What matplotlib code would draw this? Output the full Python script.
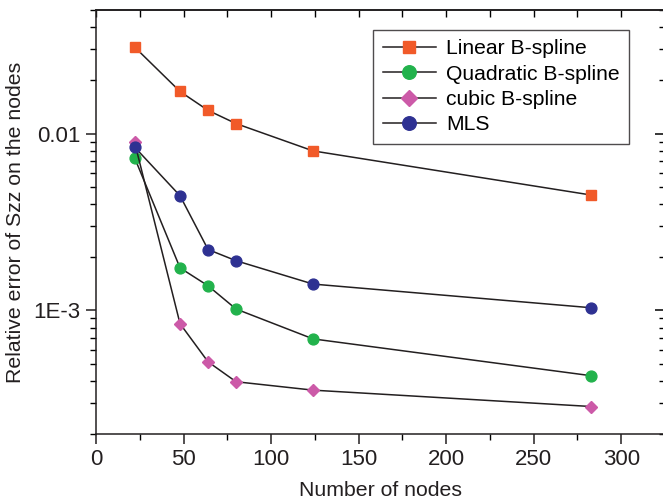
import matplotlib
matplotlib.use('Agg')
import matplotlib.pyplot as plt
from matplotlib.ticker import LogLocator, FixedFormatter, MultipleLocator, NullFormatter

plt.rcParams['font.family'] = ['Liberation Sans', 'DejaVu Sans']

nodes = [22, 48, 64, 80, 124, 283]
linear = [0.0309, 0.0173, 0.01353, 0.01139, 0.00798, 0.00449]
quadratic = [0.00732, 0.00174, 0.001378, 0.001018, 0.000690, 0.000427]
cubic = [0.00897, 0.000841, 0.000512, 0.000395, 0.000354, 0.000286]
mls = [0.00840, 0.00445, 0.00221, 0.00191, 0.001409, 0.001035]

fig = plt.figure(figsize=(6.63, 5.0), dpi=100)
ax = fig.add_axes([96/663, 66/500, 569/663, 424/500])

lc = '#231f20'
ax.plot(nodes, linear, '-', color=lc, lw=1.1, marker='s', ms=7.2,
        mfc='#f15a29', mec='#f15a29', label='Linear B-spline')
ax.plot(nodes, quadratic, '-', color=lc, lw=1.1, marker='o', ms=7.8,
        mfc='#22b24c', mec='#22b24c', label='Quadratic B-spline')
ax.plot(nodes, cubic, '-', color=lc, lw=1.1, marker='D', ms=6.5,
        mfc='#cc5aa8', mec='#cc5aa8', label='cubic B-spline')
ax.plot(nodes, mls, '-', color=lc, lw=1.1, marker='o', ms=7.8,
        mfc='#2e3192', mec='#2e3192', label='MLS')

ax.set_yscale('log')
ax.set_xlim(0, 325)
ax.set_ylim(2e-4, 0.05)

ax.xaxis.set_major_locator(MultipleLocator(50))
ax.xaxis.set_minor_locator(MultipleLocator(25))
ax.set_yticks([1e-3, 1e-2])
ax.yaxis.set_major_formatter(FixedFormatter(['1E-3', '0.01']))
ax.yaxis.set_minor_locator(LogLocator(base=10, subs=range(2, 10)))
ax.yaxis.set_minor_formatter(NullFormatter())

ax.tick_params(which='major', direction='out', length=7, width=1.1, labelsize=16,
               colors='#231f20', pad=4)
ax.tick_params(which='minor', direction='out', length=4, width=1.0)

# mirrored ticks on top and right, pointing inward
top = ax.secondary_xaxis('top')
top.xaxis.set_major_locator(MultipleLocator(50))
top.xaxis.set_minor_locator(MultipleLocator(25))
top.tick_params(which='both', direction='in', length=5, width=1.0, labeltop=False)
right = ax.secondary_yaxis('right')
right.set_yticks([1e-3, 1e-2])
right.yaxis.set_minor_locator(LogLocator(base=10, subs=range(2, 10)))
right.tick_params(which='major', direction='in', length=7, width=1.1, labelright=False)
right.tick_params(which='minor', direction='in', length=4, width=1.0, labelright=False)
right.yaxis.set_minor_formatter(NullFormatter())

for s in ax.spines.values():
    s.set_linewidth(1.1)
    s.set_color('#231f20')
top.spines['top'].set_linewidth(1.1)
right.spines['right'].set_linewidth(1.1)

ax.set_xlabel('Number of nodes', fontsize=15.3, color='#231f20', labelpad=8)
ax.set_ylabel('Relative error of Szz on the nodes', fontsize=15.3, color='#231f20', labelpad=6)

leg = ax.legend(loc='upper right', bbox_to_anchor=(533/569, 404/424), fontsize=15.2,
                frameon=True, fancybox=False, handlelength=2.5, handletextpad=0.48,
                labelspacing=0.3, borderpad=0.45, borderaxespad=0, markerscale=1.25)
leg.get_frame().set_edgecolor('#231f20')
leg.get_frame().set_linewidth(1.0)

fig.savefig('out.png', dpi=100)
